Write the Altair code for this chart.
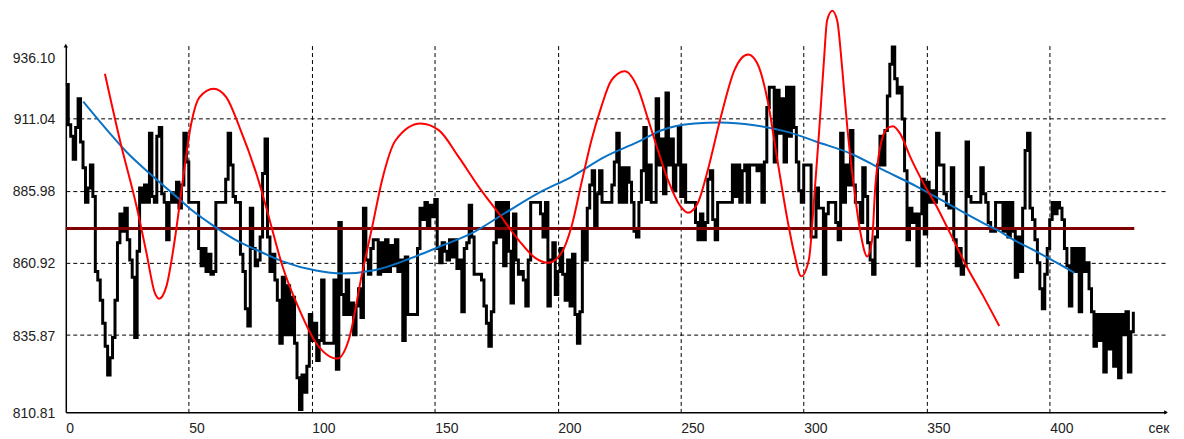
import altair as alt
import pandas as pd

# ---------------- data ----------------
# measured signal, one sample per second (t = 0 .. 434)
signal = [
    923, 909, 905, 897, 908, 918, 903, 894, 882, 887,
    895, 884, 858, 855, 848, 840, 832, 822, 828, 835,
    848, 868, 878, 872, 880, 869, 862, 856, 835, 865,
    887, 882, 888, 882, 906, 884, 882, 905, 908, 885,
    882, 869, 882, 885, 882, 889, 880, 888, 906, 896,
    882, 882, 882, 882, 866, 860, 866, 858, 864, 857,
    858, 882, 882, 882, 882, 890, 906, 895, 884, 882,
    882, 864, 858, 845, 839, 880, 866, 860, 862, 870,
    892, 904, 870, 858, 864, 855, 848, 833, 856, 836,
    853, 836, 849, 833, 821, 810, 822, 816, 825, 843,
    834, 840, 827, 834, 855, 833, 833, 833, 833, 855,
    824, 875, 850, 843, 855, 843, 847, 836, 846, 852,
    842, 880, 862, 857, 866, 869, 869, 857, 868, 858,
    869, 858, 867, 860, 869, 858, 862, 834, 863, 843,
    843, 843, 843, 866, 880, 876, 882, 874, 881, 877,
    883, 866, 861, 868, 865, 862, 869, 863, 869, 859,
    862, 844, 866, 868, 881, 870, 857, 857, 857, 855,
    846, 840, 832, 844, 868, 882, 870, 882, 860, 882,
    865, 847, 878, 862, 857, 858, 855, 846, 862, 882,
    882, 882, 882, 878, 870, 882, 846, 862, 868, 850,
    858, 866, 857, 848, 862, 846, 864, 843, 833, 844,
    872, 862, 880, 888, 893, 874, 885, 893, 882, 882,
    882, 882, 888, 896, 906, 882, 894, 882, 894, 889,
    882, 872, 870, 882, 893, 908, 883, 895, 882, 882,
    918, 895, 904, 885, 920, 895, 904, 886, 895, 908,
    884, 895, 882, 882, 882, 882, 875, 869, 878, 869,
    875, 890, 893, 876, 869, 882, 882, 882, 882, 882,
    882, 895, 884, 895, 882, 893, 895, 882, 895, 895,
    895, 893, 895, 882, 896, 915, 922, 922, 896, 921,
    906, 918, 896, 922, 905, 922, 908, 896, 886, 882,
    895, 895, 895, 870, 870, 887, 880, 880, 857, 878,
    882, 882, 882, 875, 869, 906, 882, 895, 888, 907,
    888, 882, 882, 875, 894, 884, 868, 862, 857, 870,
    895, 905, 895, 907, 919, 930, 936, 925, 920, 922,
    911, 893, 869, 880, 875, 878, 860, 878, 890, 871,
    889, 882, 886, 882, 906, 895, 895, 885, 881, 880,
    894, 869, 860, 866, 857, 860, 903, 884, 882, 882,
    882, 882, 894, 885, 882, 875, 872, 872, 882, 882,
    882, 872, 882, 870, 882, 872, 856, 870, 858, 880,
    900, 906, 880, 876, 869, 861, 852, 845, 857, 866,
    876, 882, 878, 882, 880, 876, 866, 860, 846, 866,
    858, 866, 844, 866, 858, 861, 852, 844, 832, 843,
    834, 843, 823, 843, 831, 843, 825, 843, 821, 843,
    836, 844, 823, 837, 844,
]
seconds = list(range(len(signal)))

# red fitted curve
red_t = [15.9, 22.0, 28.8, 32.8, 36.2, 37.9, 40.9, 44.3, 47.6, 51.0,
         54.4, 60.1, 65.2, 70.6, 78.7, 81.4, 88.1, 94.9, 101.7, 110.4,
         115.1, 120.5, 124.6, 128.6, 134.1, 144.2, 151.6, 159.7, 167.8, 175.9,
         184.0, 190.8, 196.2, 201.5, 205.6, 209.6, 213.7, 217.7, 221.8, 227.2,
         232.6, 236.6, 240.7, 244.8, 250.0, 252.9, 256.9, 261.0, 266.3, 271.8,
         277.4, 281.2, 285.3, 289.3, 293.4, 296.1, 299.0, 302.1, 304.2, 306.2,
         308.2, 309.5, 311.6, 313.6, 315.6, 317.7, 320.4, 323.1, 325.8, 327.8,
         329.1, 331.1, 333.9, 336.3, 339.2, 343.3, 348.7, 354.1, 359.5, 366.2,
         373.0, 379.5]
red_v = [926.7, 903.6, 880.5, 864.4, 850.5, 848.5, 852.8, 869.0, 889.8, 909.4,
         918.6, 921.5, 918.6, 908.2, 888.6, 880.5, 859.8, 844.8, 833.2, 827.7,
         834.4, 857.5, 873.6, 889.8, 903.6, 909.4, 907.1, 897.8, 887.5, 878.3,
         869.0, 862.7, 861.0, 864.4, 873.6, 888.6, 903.6, 915.2, 924.4, 927.6,
         921.6, 911.2, 900.2, 889.8, 880.5, 878.4, 881.7, 893.2, 911.7, 927.9,
         933.4, 930.2, 917.5, 896.7, 875.9, 864.4, 856.3, 862.1, 882.9, 905.9,
         931.0, 945.2, 948.6, 945.2, 929.0, 908.2, 887.5, 871.3, 863.2, 869.0,
         887.5, 901.3, 907.7, 908.5, 905.9, 897.8, 888.6, 880.5, 871.3, 859.8,
         849.4, 839.0]

# blue trend curve
blue_t = [7.1, 17.9, 24.7, 35.5, 46.3, 51.7, 59.8, 67.9, 78.7, 88.1,
          101.7, 112.4, 126.0, 139.5, 151.6, 165.1, 178.6, 192.1, 205.6, 219.1,
          232.6, 242.0, 255.6, 266.3, 279.9, 293.4, 305.5, 319.0, 332.5, 346.0,
          359.5, 373.0, 378.4, 386.5, 391.9, 410.1]
blue_v = [917.0, 906.0, 899.5, 891.0, 883.0, 879.0, 874.0, 869.5, 865.0, 861.5,
          858.3, 857.3, 858.5, 862.3, 866.5, 871.3, 878.3, 885.2, 890.9, 897.8,
          903.0, 907.0, 909.4, 909.8, 908.8, 906.5, 903.0, 899.0, 893.2, 887.5,
          881.1, 874.8, 872.5, 868.4, 866.1, 857.5]

# dark red mean level
mean_t = [0, 434.4]
mean_v = [872.9, 872.9]

# axes
y_grid_values = [835.87, 860.92, 885.98, 911.04]
y_bottom_label = "810.81"
y_top_label = "936.10"
x_tick_values = [0, 50, 100, 150, 200, 250, 300, 350, 400]
x_unit_label = "сек"

Y_MIN, Y_MAX = 809.0, 936.5
X_MAX = 447.3
X_UNIT_POS = 440
Y_TOP_LABEL_POS = 932.5

# ---------------- chart ----------------
FONT = "Liberation Sans"

xs = alt.Scale(domain=[0, X_MAX], nice=False, zero=False)
ys = alt.Scale(domain=[Y_MIN, Y_MAX], nice=False, zero=False)

x_axis = alt.Axis(
    values=x_tick_values + [X_UNIT_POS],
    labelExpr=f"datum.value > 420 ? '{x_unit_label}' : datum.label",
    title=None, ticks=False, labelAlign="left", labelPadding=9,
    labelFont=FONT, labelFontSize=14, labelColor="#222222",
    domainColor="black", domainWidth=1.5,
    grid=True, gridColor="black", gridDash=[4, 3], gridWidth=1,
    gridOpacity={"condition": {"test": "datum.value > 420 || datum.value == 0", "value": 0}, "value": 1},
    labelFlush=False, labelOverlap=False,
)
y_axis = alt.Axis(
    values=[Y_MIN] + y_grid_values + [Y_TOP_LABEL_POS],
    labelExpr=(f"datum.value < 810 ? '{y_bottom_label}' : datum.value > 930 ? '{y_top_label}' "
               ": format(datum.value, '.2f')"),
    title=None, ticks=False, labelPadding=11, labelOffset=1,
    labelFont=FONT, labelFontSize=14, labelColor="#222222",
    domainColor="black", domainWidth=1.5,
    grid=True, gridColor="black", gridDash=[4, 3], gridWidth=1,
    gridOpacity={"condition": {"test": "datum.value < 810 || datum.value > 930", "value": 0}, "value": 1},
    labelFlush=False, labelOverlap=False,
)

df_sig = pd.DataFrame({"t": seconds, "v": signal})
df_red = pd.DataFrame({"t": red_t, "v": red_v})
df_blue = pd.DataFrame({"t": blue_t, "v": blue_v})
df_mean = pd.DataFrame({"t": mean_t, "v": mean_v})
df_arrow_y = pd.DataFrame({"t": [0], "v": [Y_MAX]})
df_arrow_x = pd.DataFrame({"t": [X_MAX], "v": [Y_MIN]})

sig = alt.Chart(df_sig).mark_line(interpolate="step-after", color="black", strokeWidth=3).encode(
    x=alt.X("t:Q", scale=xs, axis=x_axis),
    y=alt.Y("v:Q", scale=ys, axis=y_axis),
)
mean = alt.Chart(df_mean).mark_line(color="#7f0000", strokeWidth=3).encode(
    x=alt.X("t:Q", scale=xs), y=alt.Y("v:Q", scale=ys))
blue = alt.Chart(df_blue).mark_line(color="#0a72c4", strokeWidth=2, interpolate="monotone").encode(
    x=alt.X("t:Q", scale=xs), y=alt.Y("v:Q", scale=ys))
red = alt.Chart(df_red).mark_line(color="#ff0000", strokeWidth=2, interpolate="monotone").encode(
    x=alt.X("t:Q", scale=xs), y=alt.Y("v:Q", scale=ys))
arrow_y = alt.Chart(df_arrow_y).mark_point(shape="triangle-up", filled=True, color="black", size=18, opacity=1).encode(
    x=alt.X("t:Q", scale=xs), y=alt.Y("v:Q", scale=ys))
arrow_x = alt.Chart(df_arrow_x).mark_point(shape="triangle-right", filled=True, color="black", size=18, opacity=1).encode(
    x=alt.X("t:Q", scale=xs), y=alt.Y("v:Q", scale=ys))

chart = alt.layer(sig, mean, blue, red, arrow_y, arrow_x).properties(
    width=1104, height=368,
    padding={"left": 58, "top": 37, "right": 10, "bottom": 24},
    autosize=alt.AutoSizeParams(type="none"),
    background="white",
).configure_view(stroke=None)

chart.save("out.html", embed_options={"renderer": "svg", "actions": False})
